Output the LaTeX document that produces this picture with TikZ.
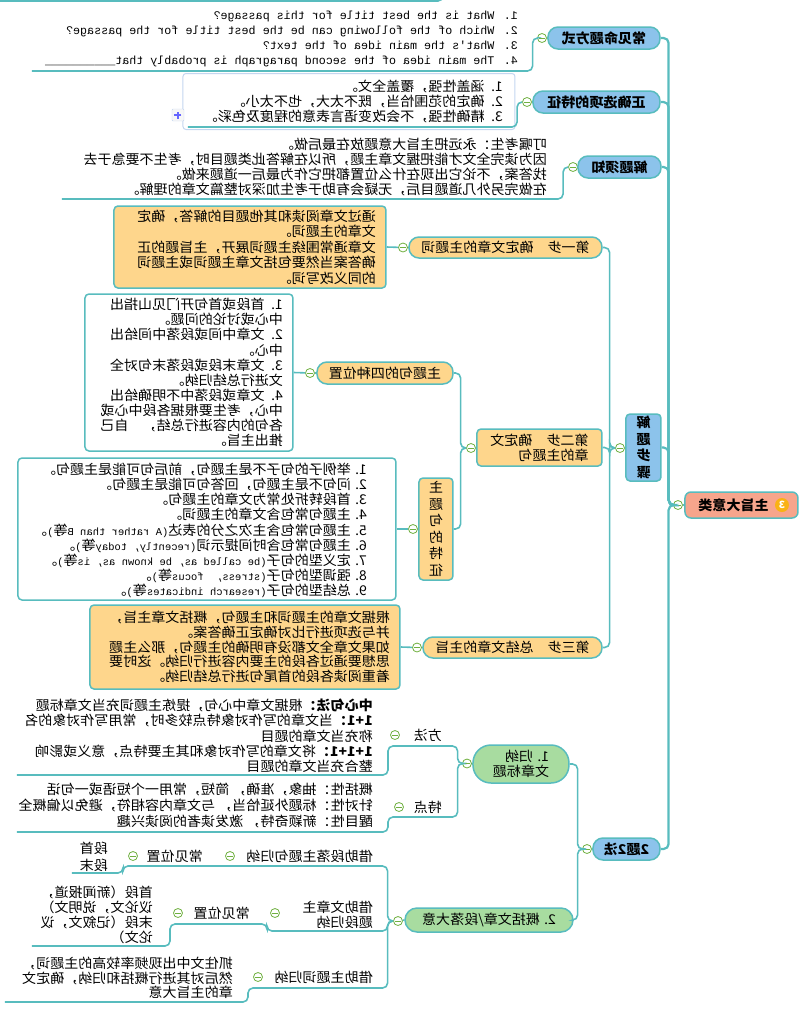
\documentclass[tikz,border=0pt]{standalone}
\usepackage{fontspec}
\setmainfont{Noto Sans CJK SC}[FakeStretch=1.04]
\newfontfamily\mono{Liberation Mono}
\usepackage{xcolor}
\definecolor{linecol}{RGB}{88,188,190}
\definecolor{bluefill}{RGB}{140,195,235}
\definecolor{orgfill}{RGB}{254,214,140}
\definecolor{grnfill}{RGB}{168,220,160}
\definecolor{rootfill}{RGB}{247,165,140}
\definecolor{btngrn}{RGB}{112,176,64}
\definecolor{boxblue}{RGB}{196,214,240}
\definecolor{badgecol}{RGB}{250,178,20}

\newcommand{\fs}{\fontsize{13.5}{15}\selectfont}
\newcommand{\en}[1]{{\mono\fontsize{10.5}{15}\selectfont #1}}

\tikzset{
  link/.style={draw=linecol, line width=1.6pt, rounded corners=5pt},
  trunk/.style={link, line width=2.2pt},
  topic/.style={draw=linecol, fill=bluefill, line width=1.5pt, rounded corners=10pt,
    inner sep=0pt, minimum height=22pt, font=\fs\bfseries},
  steptopic/.style={topic, fill=orgfill, font=\fs},
  waytopic/.style={topic, fill=grnfill, font=\fs},
  notebox/.style={draw=linecol, line width=1.5pt, rounded corners=4pt, inner ysep=0pt,
    align=left, font=\fs},
  leaf/.style={inner sep=0pt, align=left, font=\fs, anchor=north west},
  tag/.style={inner sep=0pt, font=\fs, anchor=west},
  btn/.style={circle, draw=btngrn, fill=white, line width=0.8pt, minimum size=9pt, inner sep=0pt,
    path picture={\draw[btngrn, line width=1pt]
      ([xshift=-2.6pt]path picture bounding box.center) -- ([xshift=2.6pt]path picture bounding box.center);}}
}

\begin{document}
\begin{tikzpicture}[x=1pt, y=-1pt, xscale=-1, every node/.append style={transform shape}]
\useasboundingbox (0,0) rectangle (800,1015);

% root and main trunk
\node[topic, fill=rootfill, minimum width=113pt, minimum height=26pt, rounded corners=6pt] (root) at (58.5,505) {\hspace{16pt}主旨大意类};
\node[circle, fill=badgecol, minimum size=14pt, inner sep=0pt, text=white, font=\fontsize{10}{10}\selectfont\bfseries] (badge) at (18,505) {3};
\node[btn] (bRoot) at (122,505) {};
\draw[trunk] (root.east) -- (bRoot);

\node[topic, minimum width=112pt] (A) at (196,38) {常见命题方式};
\node[topic, minimum width=127pt] (B) at (203.5,102) {正确选项的特征};
\node[topic, minimum width=83pt] (C) at (180.5,167) {解题须知};
\node[topic, minimum width=35pt, minimum height=67pt, rounded corners=4pt, align=center,
  font=\fontsize{13.5}{16.5}\selectfont\bfseries] (D) at (156.5,447.5) {解\\题\\步\\骤};
\node[topic, minimum width=67pt] (E) at (173.5,849) {2题2法};
\foreach \n in {A,B,C,D,E}
  \draw[trunk] (bRoot.east) -- ++(4.5,0) |- (\n.west);

% a topmost edge line
\coordinate (topL) at (357,-6);
\coordinate (topR) at (800,1);
\draw[link] (topL) |- (topR);

% common question forms
\node[btn] (bA) at (258,38) {};
\draw[link] (A.east) -- (bA);
\node[leaf, font=\mono\fontsize{11.7}{15}\selectfont] (tA) at (282,10.5)
  {1. What is the best title for this passage?\\
   2. Which of the following can be the best title for the passage?\\
   3. What's the main idea of the text?\\
   4. The main idea of the second paragraph is probably that\_\_\_\_\_\_\_\_\_\_};
\coordinate (uA) at (768,71);
\draw[link] (bA.east) -- ++(4.5,0) |- (uA);

% correct option
\node[btn] (bB) at (273,102) {};
\draw[link] (B.east) -- (bB);
\node[notebox, draw=boxblue, line width=1pt, fill=white, rounded corners=3pt, text width=308pt,
  inner xsep=12pt, minimum height=56pt] (nB) at (451,101.5)
  {1. 涵盖性强，覆盖全文。\\
   2. 确定的范围恰当，既不太大，也不太小。\\
   3. 精确性强，不会改变语言表意的程度及色彩。};
\coordinate (uB) at (612,127);
\draw[link] (bB.east) -- ++(5,0) |- (uB);
\node[draw=boxblue, fill=gray!6, minimum size=12pt, inner sep=0pt, rounded corners=1pt,
  path picture={\draw[blue!60, line width=1.2pt]
    ([xshift=-3.5pt]path picture bounding box.center) -- ([xshift=3.5pt]path picture bounding box.center)
    ([yshift=-3.5pt]path picture bounding box.center) -- ([yshift=3.5pt]path picture bounding box.center);}]
  (plusB) at (622,115) {};

% notes
\node[btn] (bC) at (227,167) {};
\draw[link] (C.east) -- (bC);
\node[leaf] (tC) at (253,138)
  {叮嘱考生：永远把主旨大意题放在最后做。\\
   因为读完全文才能把握文章主题，所以在解答此类题目时，考生不要急于去\\
   找答案，不论它出现在什么位置都把它作为最后一道题来做。\\
   在做完另外几道题目后，无疑会有助于考生加深对整篇文章的理解。};
\coordinate (uC) at (738,199);
\draw[link] (bC.east) -- ++(5,0) |- (uC);

% steps
\node[btn] (bD) at (180,448) {};
\draw[link] (D.east) -- (bD);
\node[steptopic, minimum width=193pt, minimum height=21pt] (D1) at (294.5,247.5) {第一步　确定文章的主题词};
\node[steptopic, minimum width=125pt, minimum height=37pt, rounded corners=4pt, align=left] (D2) at (260.5,447.5) {第二步　确定文\\章的主题句};
\node[steptopic, minimum width=179pt, minimum height=21pt] (D3) at (287.5,647.5) {第三步　总结文章的主旨};
\foreach \s in {D1,D2,D3}
  \draw[link] (bD.east) -- ++(5.5,0) |- (\s.west);

\node[btn] (bD1) at (397,247.5) {};
\draw[link] (D1.east) -- (bD1);
\node[notebox, fill=orgfill, text width=252pt, inner xsep=10pt, minimum height=82pt,
  font=\fontsize{13.5}{15.5}\selectfont] (nD1) at (550,247)
  {通过文章阅读和其他题目的解答，确定\\
   文章的主题词。\\
   文章通常围绕主题词展开，主旨题的正\\
   确答案当然要包括文章主题词或主题词\\
   的同义改写词。};
\draw[link] (bD1) -- (nD1.west);

\node[btn] (bD2) at (329,448) {};
\draw[link] (D2.east) -- (bD2);
\node[steptopic, minimum width=136pt] (D2a) at (415,373) {主题句的四种位置};
\node[steptopic, minimum width=34pt, minimum height=102pt, rounded corners=4pt, align=center,
  font=\fontsize{13.5}{16.5}\selectfont] (D2b) at (364,529) {主\\题\\句\\的\\特\\征};
\foreach \s in {D2a,D2b}
  \draw[link] (bD2.east) -- ++(5.5,0) |- (\s.west);

\node[btn] (bD2a) at (490,373) {};
\draw[link] (D2a.east) -- (bD2a);
\node[notebox, fill=white, text width=188pt, inner xsep=10pt, minimum height=157pt,
  font=\fontsize{13.5}{15.1}\selectfont] (nD2a) at (611,372.5)
  {1. 首段或首句开门见山指出\\
   中心或讨论的问题。\\
   2. 文章中间或段落中间给出\\
   中心。\\
   3. 文章末段或段落末句对全\\
   文进行总结归纳。\\
   4. 文章或段落中不明确给出\\
   中心，考生要根据各段中心或\\
   各句的内容进行总结，　自己\\
   推出主旨。};
\draw[link] (bD2a) -- (nD2a.west);

\node[btn] (bD2b) at (387,529) {};
\draw[link] (D2b.east) -- (bD2b);
\node[notebox, fill=white, minimum width=378pt, minimum height=142pt] (nD2b) at (593,529) {};
\node[leaf, font=\fontsize{13.5}{15.1}\selectfont] (tD2b) at (433,463)
  {1. 举例子的句子不是主题句，前后句可能是主题句。\\
   2. 问句不是主题句，回答句可能是主题句。\\
   3. 首段转折处常为文章的主题句。\\
   4. 主题句常包含文章的主题词。\\
   5. 主题句常包含主次之分的表达\en{(A rather than B}等\en{)}。\\
   6. 主题句常包含时间提示词\en{(recently, today}等\en{)}。\\
   7. 定义型的句子\en{(be called as, be known as, is}等\en{)}。\\
   8. 强调型的句子\en{(stress,\ \ focus}等\en{)}。\\
   9. 总结型的句子\en{(research indicates}等\en{)}。};
\draw[link] (bD2b) -- (nD2b.west);

\node[btn] (bD3) at (383,647.5) {};
\draw[link] (D3.east) -- (bD3);
\node[notebox, fill=orgfill, text width=290pt, inner xsep=10pt, minimum height=84pt,
  font=\fontsize{13.5}{14.8}\selectfont] (nD3) at (555,647)
  {根据文章的主题词和主题句，概括文章主旨，\\
   并与选项进行比对确定正确答案。\\
   如果文章全文都没有明确的主题句，那么主题\\
   思想要通过各段的主要内容进行归纳。这时要\\
   着重阅读各段的首尾句进行总结归纳。};
\draw[link] (bD3) -- (nD3.west);

% two question types, two ways
\node[btn] (bE) at (213,849) {};
\draw[link] (E.east) -- (bE);
\node[waytopic, minimum width=96pt, minimum height=38pt, rounded corners=18pt, align=left] (E1) at (279,764) {1. 归纳\\文章标题};
\node[waytopic, minimum width=168pt, minimum height=24pt, rounded corners=12pt] (E2) at (311,920) {2. 概括文章/段落大意};
\foreach \s in {E1,E2}
  \draw[link] (bE.east) -- ++(4.5,0) |- (\s.west);

\node[btn] (bE1) at (333,763.5) {};
\draw[link] (E1.east) -- (bE1);
\node[tag] (way) at (358,735) {方法};
\node[btn] (bWay) at (405,735) {};
\node[leaf, font=\fontsize{13.5}{15.2}\selectfont] (tWay) at (427,699)
  {\textbf{中心句法：}根据文章中心句，提炼主题词充当文章标题\\
   \textbf{1+1：}当文章的写作对象特点较多时，常用写作对象的名\\
   称充当文章的题目\\
   \textbf{1+1+1：}将文章的写作对象和其主要特点，意义或影响\\
   整合充当文章的题目};
\coordinate (uWay) at (412,746);
\coordinate (eWay) at (783,775);
\draw[link] (bE1.east) -- ++(4.5,0) |- (uWay) |- (eWay);

\node[tag] (trait) at (358,807) {特点};
\node[btn] (bTrait) at (401,807) {};
\node[leaf, font=\fontsize{13.5}{16}\selectfont] (tTrait) at (427,783)
  {概括性：抽象，准确， 简短，常用一个短语或一句话\\
   针对性：标题外延恰当， 与文章内容相符，避免以偏概全\\
   醒目性：新颖奇特， 激发读者的阅读兴趣};
\coordinate (uTrait) at (412,817);
\coordinate (eTrait) at (783,832);
\draw[link] (bE1.east) -- ++(4.5,0) |- (uTrait) |- (eTrait);

\node[btn] (bE2) at (402,921) {};
\draw[link] (E2.east) -- (bE2);

\node[tag] (byPara) at (427,856) {借助段落主题句归纳};
\node[btn] (bByPara) at (570,856) {};
\node[tag] (posA) at (597,856) {常见位置};
\node[btn] (bPosA) at (667,856) {};
\node[leaf, font=\fontsize{13.5}{17}\selectfont] (tPosA) at (692,842) {段首\\段末};
\coordinate (uByPara) at (677,866);
\coordinate (eByPara) at (728,873);
\draw[link] (bE2.east) -- ++(5.5,0) |- (uByPara) |- (eByPara);

\node[tag, align=left] (byText) at (427,914.5) {借助文章主\\题段归纳};
\node[btn] (bByText) at (525,913) {};
\node[tag] (posB) at (550,913) {常见位置};
\node[btn] (bPosB) at (622,913) {};
\node[leaf] (tPosB) at (647,886)
  {首段（新闻报道，\\
   议论文，说明文）\\
   末段（记叙文，议\\
   论文）};
\coordinate (uByText) at (533,931);
\coordinate (mByText) at (630,924);
\coordinate (eByText) at (768,946);
\draw[link] (bE2.east) -- ++(5.5,0) |- (uByText) |- (mByText) |- (eByText);

\node[tag] (byWord) at (427,977) {借助主题词归纳};
\node[btn] (bByWord) at (542,977) {};
\node[leaf, font=\fontsize{13.5}{14.5}\selectfont] (tByWord) at (567,957)
  {抓住文中出现频率较高的主题词，\\
   然后对其进行概括和归纳，确定文\\
   章的主旨大意};
\coordinate (uByWord) at (552,988);
\coordinate (eByWord) at (795,1002);
\draw[link] (bE2.east) -- ++(5.5,0) |- (uByWord) |- (eByWord);
\end{tikzpicture}
\end{document}
